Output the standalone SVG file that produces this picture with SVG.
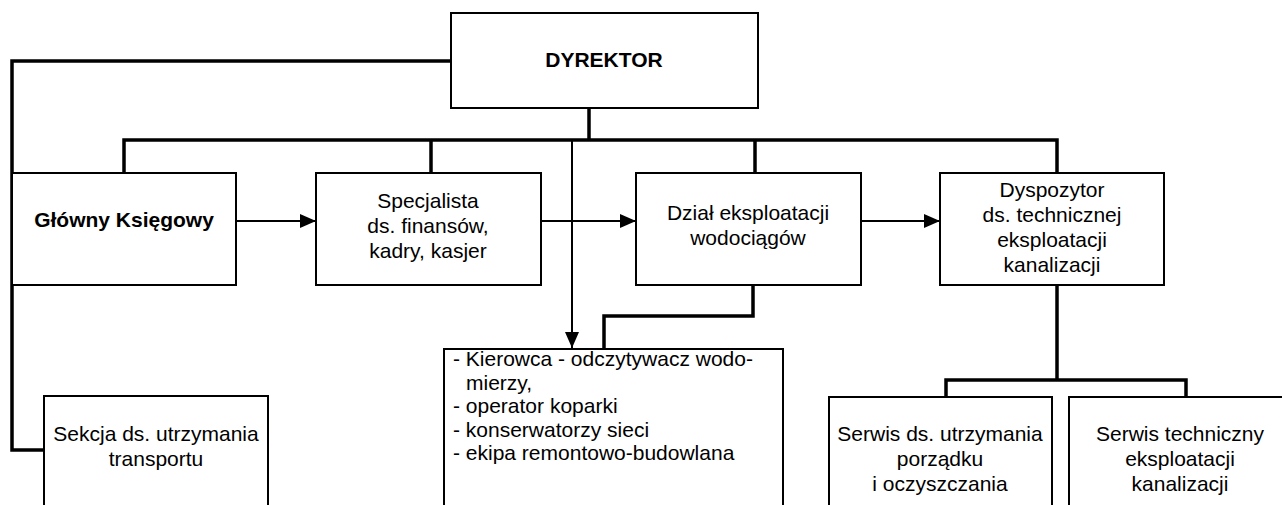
<svg xmlns="http://www.w3.org/2000/svg" width="1282" height="505" viewBox="0 0 1282 505">
<style>
.box{fill:#fff;stroke:#000;stroke-width:2}
.t{font-family:"Liberation Sans",Arial,sans-serif;font-size:21px;fill:#000;text-anchor:middle}
.tl{font-family:"Liberation Sans",Arial,sans-serif;font-size:21px;fill:#000;text-anchor:start}
.b{font-weight:bold}
.thick{fill:none;stroke:#000;stroke-width:3.5;stroke-linejoin:miter}
.thin{fill:none;stroke:#000;stroke-width:2}
</style>
<defs>
<marker id="ah" viewBox="0 0 16 14" refX="16" refY="7" markerWidth="16" markerHeight="14" markerUnits="userSpaceOnUse" orient="auto">
<path d="M0,0 L16,7 L0,14 Z" fill="#000"/>
</marker>
</defs>
<rect width="1282" height="505" fill="#fff"/>
<g id="connectors">
<polyline class="thick" points="451,61 12,61 12,450 44,450"/>
<polyline class="thick" points="589,108 589,140"/>
<polyline class="thick" points="124,173 124,140 1057,140 1057,173"/>
<line class="thick" x1="431" y1="140" x2="431" y2="173"/>
<line class="thick" x1="755" y1="140" x2="755" y2="173"/>
<line class="thin" x1="572" y1="140" x2="572" y2="348" marker-end="url(#ah)"/>
<line class="thin" x1="236" y1="221" x2="316" y2="221" marker-end="url(#ah)"/>
<line class="thin" x1="541" y1="221" x2="636" y2="221" marker-end="url(#ah)"/>
<line class="thin" x1="861" y1="221" x2="940" y2="221" marker-end="url(#ah)"/>
<polyline class="thick" points="753,285 753,316 604,316 604,349"/>
<polyline class="thick" points="1057,285 1057,380"/>
<polyline class="thick" points="946,397 946,380 1186,380 1186,397"/>
</g>
<g id="dyrektor">
<rect class="box" x="451" y="13" width="307" height="95"/>
<text class="t b" x="604" y="67" font-size="20">DYREKTOR</text>
</g>
<g id="glowny">
<rect class="box" x="12" y="173" width="224" height="112"/>
<text class="t b" x="124" y="227">Główny Księgowy</text>
</g>
<g id="specjalista">
<rect class="box" x="316" y="173" width="225" height="112"/>
<text class="t" x="428" y="208">Specjalista</text>
<text class="t" x="428" y="233">ds. finansów,</text>
<text class="t" x="428" y="258">kadry, kasjer</text>
</g>
<g id="dzial">
<rect class="box" x="636" y="173" width="225" height="112"/>
<text class="t" x="748" y="220">Dział eksploatacji</text>
<text class="t" x="748" y="245">wodociągów</text>
</g>
<g id="dyspozytor">
<rect class="box" x="940" y="173" width="224" height="112"/>
<text class="t" x="1052" y="197">Dyspozytor</text>
<text class="t" x="1052" y="222">ds. technicznej</text>
<text class="t" x="1052" y="247">eksploatacji</text>
<text class="t" x="1052" y="272">kanalizacji</text>
</g>
<g id="kierowca">
<rect class="box" x="444" y="349" width="339" height="170"/>
<text class="tl" x="453" y="366">- Kierowca - odczytywacz wodo-</text>
<text class="tl" x="466" y="390">mierzy,</text>
<text class="tl" x="453" y="413">- operator koparki</text>
<text class="tl" x="453" y="437">- konserwatorzy sieci</text>
<text class="tl" x="453" y="460">- ekipa remontowo-budowlana</text>
</g>
<g id="sekcja">
<rect class="box" x="44" y="396" width="224" height="120"/>
<text class="t" x="156" y="441">Sekcja ds. utrzymania</text>
<text class="t" x="156" y="466">transportu</text>
</g>
<g id="serwis1">
<rect class="box" x="829" y="397" width="223" height="120"/>
<text class="t" x="940" y="441">Serwis ds. utrzymania</text>
<text class="t" x="940" y="466">porządku</text>
<text class="t" x="940" y="491">i oczyszczania</text>
</g>
<g id="serwis2">
<rect class="box" x="1069" y="397" width="223" height="120"/>
<text class="t" x="1180" y="441">Serwis techniczny</text>
<text class="t" x="1180" y="466">eksploatacji</text>
<text class="t" x="1180" y="491">kanalizacji</text>
</g>
</svg>
